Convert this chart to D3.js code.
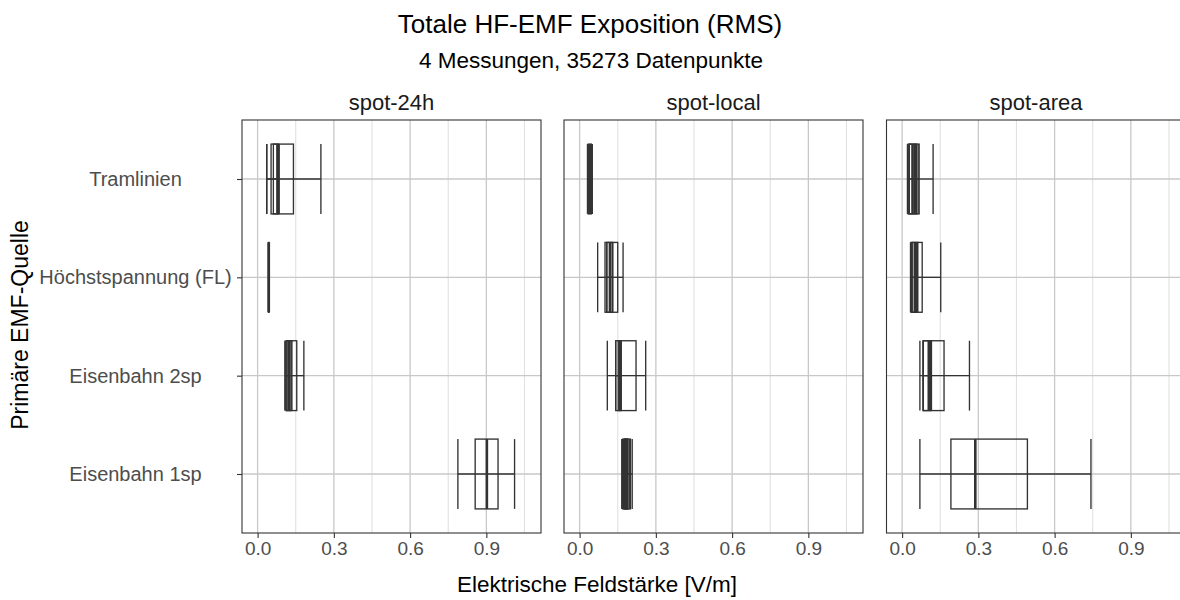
<!DOCTYPE html>
<html>
<head>
<meta charset="utf-8">
<script src="https://cdn.jsdelivr.net/npm/d3@7"></script>
<style>
  html, body { margin: 0; padding: 0; background: #fff; }
  svg { display: block; font-family: "Liberation Sans", Arial, sans-serif; }
</style>
</head>
<body>
<svg id="chart" width="1180" height="600"></svg>
<script>
// ---------- data ----------
const facets = ["spot-24h", "spot-local", "spot-area"];
const sources = ["Tramlinien", "Höchstspannung (FL)", "Eisenbahn 2sp", "Eisenbahn 1sp"];
const xTicks = [0.0, 0.3, 0.6, 0.9];
const xMinorTicks = [0.15, 0.45, 0.75, 1.05];

// one entry per drawn box (several measurements overlap in some cells)
const boxFacet  = ["spot-24h","spot-24h","spot-24h","spot-24h","spot-24h","spot-24h",
                   "spot-local","spot-local","spot-local","spot-local","spot-local","spot-local","spot-local","spot-local",
                   "spot-area","spot-area","spot-area","spot-area","spot-area","spot-area","spot-area"];
const boxSource = ["Tramlinien","Tramlinien","Höchstspannung (FL)","Eisenbahn 2sp","Eisenbahn 2sp","Eisenbahn 1sp",
                   "Tramlinien","Höchstspannung (FL)","Höchstspannung (FL)","Eisenbahn 2sp","Eisenbahn 2sp","Eisenbahn 1sp","Eisenbahn 1sp","Eisenbahn 1sp",
                   "Tramlinien","Tramlinien","Höchstspannung (FL)","Höchstspannung (FL)","Eisenbahn 2sp","Eisenbahn 2sp","Eisenbahn 1sp"];
const boxLow    = [0.036, 0.036, 0.042, 0.108, 0.108, 0.788,
                   0.031, 0.071, 0.107, 0.109, 0.142, 0.166, 0.168, 0.172,
                   0.021, 0.028, 0.033, 0.036, 0.070, 0.083, 0.070];
const boxQ1     = [0.053, 0.062, 0.043, 0.112, 0.115, 0.856,
                   0.034, 0.100, 0.107, 0.142, 0.152, 0.170, 0.175, 0.178,
                   0.024, 0.028, 0.035, 0.040, 0.083, 0.083, 0.192];
const boxMedian = [0.082, 0.078, 0.044, 0.125, 0.122, 0.902,
                   0.040, 0.120, 0.120, 0.160, 0.158, 0.185, 0.180, 0.183,
                   0.041, 0.050, 0.050, 0.055, 0.113, 0.105, 0.288];
const boxQ3     = [0.141, 0.083, 0.045, 0.154, 0.132, 0.946,
                   0.046, 0.150, 0.130, 0.222, 0.163, 0.200, 0.190, 0.188,
                   0.067, 0.057, 0.079, 0.061, 0.165, 0.113, 0.493];
const boxHigh   = [0.249, 0.083, 0.046, 0.182, 0.135, 1.011,
                   0.050, 0.171, 0.130, 0.260, 0.163, 0.207, 0.195, 0.198,
                   0.122, 0.063, 0.152, 0.061, 0.265, 0.113, 0.743];

const titleText = "Totale HF-EMF Exposition (RMS)";
const subtitleText = "4 Messungen, 35273 Datenpunkte";
const xLabel = "Elektrische Feldstärke [V/m]";
const yLabel = "Primäre EMF-Quelle";

// ---------- layout ----------
const svg = d3.select("#chart");
const panelTop = 120, panelH = 413, panelW = 299;
const panelLefts = [242, 564, 886.5];
const boxWidthFrac = 0.71;
const yLabelCenter = 135.5;

const x = d3.scaleLinear().domain([-0.0614, 1.115]).range([0, panelW]);
const y = d3.scalePoint().domain(sources).range([0, panelH]).padding(0.6);
const step = y.step();
const bh = step * boxWidthFrac;

const boxes = boxFacet.map((f, i) => ({
  facet: f, source: boxSource[i], lo: boxLow[i], q1: boxQ1[i],
  med: boxMedian[i], q3: boxQ3[i], hi: boxHigh[i]
}));

const ink = "#333333";
const gridMajor = "#c8c8c8";
const gridMinor = "#e1e1e1";
const sw = 1.35;

facets.forEach((facet, fi) => {
  const g = svg.append("g").attr("transform", `translate(${panelLefts[fi]},${panelTop})`);

  g.selectAll("line.minor").data(xMinorTicks).join("line")
    .attr("x1", d => x(d)).attr("x2", d => x(d))
    .attr("y1", 0).attr("y2", panelH)
    .attr("stroke", gridMinor).attr("stroke-width", 1.1);
  g.selectAll("line.majx").data(xTicks).join("line")
    .attr("x1", d => x(d)).attr("x2", d => x(d))
    .attr("y1", 0).attr("y2", panelH)
    .attr("stroke", gridMajor).attr("stroke-width", 1.3);
  g.selectAll("line.majy").data(sources).join("line")
    .attr("x1", 0).attr("x2", panelW)
    .attr("y1", d => y(d)).attr("y2", d => y(d))
    .attr("stroke", gridMajor).attr("stroke-width", 1.3);

  const data = boxes.filter(b => b.facet === facet);
  const bg = g.selectAll("g.box").data(data).join("g").attr("class", "box");
  bg.append("line")
    .attr("x1", d => x(d.lo)).attr("x2", d => x(d.hi))
    .attr("y1", d => y(d.source)).attr("y2", d => y(d.source))
    .attr("stroke", ink).attr("stroke-width", sw);
  bg.append("line")
    .attr("x1", d => x(d.lo)).attr("x2", d => x(d.lo))
    .attr("y1", d => y(d.source) - bh / 2).attr("y2", d => y(d.source) + bh / 2)
    .attr("stroke", ink).attr("stroke-width", sw);
  bg.append("line")
    .attr("x1", d => x(d.hi)).attr("x2", d => x(d.hi))
    .attr("y1", d => y(d.source) - bh / 2).attr("y2", d => y(d.source) + bh / 2)
    .attr("stroke", ink).attr("stroke-width", sw);
  bg.append("rect")
    .attr("x", d => x(d.q1)).attr("width", d => Math.max(0, x(d.q3) - x(d.q1)))
    .attr("y", d => y(d.source) - bh / 2).attr("height", bh)
    .attr("fill", "none").attr("stroke", ink).attr("stroke-width", sw);
  bg.append("line")
    .attr("x1", d => x(d.med)).attr("x2", d => x(d.med))
    .attr("y1", d => y(d.source) - bh / 2).attr("y2", d => y(d.source) + bh / 2)
    .attr("stroke", ink).attr("stroke-width", 2.6);

  g.append("rect").attr("x", 0).attr("y", 0).attr("width", panelW).attr("height", panelH)
    .attr("fill", "none").attr("stroke", ink).attr("stroke-width", 1.1);

  const xa = g.append("g").attr("transform", `translate(0,${panelH})`)
    .call(d3.axisBottom(x).tickValues(xTicks).tickFormat(d3.format(".1f")).tickSize(5).tickPadding(4));
  xa.select(".domain").remove();
  xa.selectAll(".tick line").attr("stroke", ink).attr("stroke-width", 1.1);
  xa.selectAll(".tick text").attr("fill", "#4d4d4d").style("font-size", "19px")
    .style("font-family", "Liberation Sans, Arial, sans-serif");

  if (fi === 0) {
    const ya = g.append("g")
      .call(d3.axisLeft(y).tickSize(5).tickPadding(4.5));
    ya.select(".domain").remove();
    ya.selectAll(".tick line").attr("stroke", ink).attr("stroke-width", 1.1);
    ya.selectAll(".tick text").attr("fill", "#4d4d4d").style("font-size", "20px")
      .style("font-family", "Liberation Sans, Arial, sans-serif")
      .attr("text-anchor", "middle")
      .attr("x", yLabelCenter - panelLefts[0]);
  }

  svg.append("text")
    .attr("x", panelLefts[fi] + panelW / 2).attr("y", 110)
    .attr("text-anchor", "middle").attr("fill", "#1a1a1a")
    .style("font-size", "22px").text(facet);
});

svg.append("text").attr("x", 590).attr("y", 33).attr("text-anchor", "middle")
  .attr("fill", "#000").style("font-size", "26px").text(titleText);
svg.append("text").attr("x", 591).attr("y", 68).attr("text-anchor", "middle")
  .attr("fill", "#000").style("font-size", "22.5px").text(subtitleText);
svg.append("text").attr("x", 597).attr("y", 592).attr("text-anchor", "middle")
  .attr("fill", "#000").style("font-size", "22.5px").text(xLabel);
svg.append("text").attr("transform", "translate(28,325) rotate(-90)")
  .attr("text-anchor", "middle").attr("fill", "#000")
  .style("font-size", "23px").text(yLabel);
</script>
</body>
</html>
